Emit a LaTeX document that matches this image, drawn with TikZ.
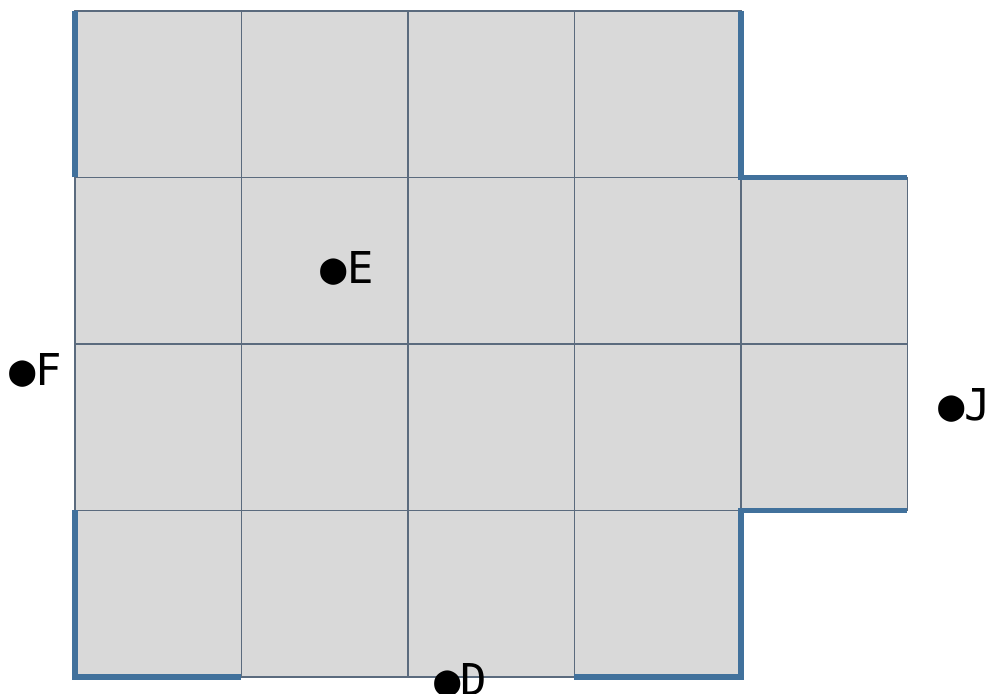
\documentclass[tikz,border=0pt]{standalone}
\usepackage{fontspec}
\setmonofont{DejaVu Sans Mono}
\usetikzlibrary{positioning}

\definecolor{cellgray}{HTML}{D9D9D9}
\definecolor{gridline}{HTML}{5B6B7E}
\definecolor{edgeblue}{HTML}{41719C}

\tikzset{
	cell/.style = {fill = cellgray, draw = gridline, line width = 0.5pt},
	edge/.style = {draw = edgeblue, line width = 2pt},
	spot/.style = {font = \ttfamily\fontsize{15}{18}\selectfont, inner sep = 0pt}
}

\begin{document}
\begin{tikzpicture}[x = 2cm, y = 2cm]
	\useasboundingbox (-0.450, -0.102) rectangle (5.538, 4.066);
	% the four by four block
	\foreach \i in {0, 1, 2, 3} {
		\foreach \j in {0, 1, 2, 3} {
			\draw [cell] (\i, \j) rectangle ++(1, 1);
		}
	}
	% the two squares on the right
	\draw [cell] (4, 1) rectangle ++(1, 1);
	\draw [cell] (4, 2) rectangle ++(1, 1);
	% thick blue edges
	\draw [edge] (0, 3) -- (0, 4);
	\draw [edge] (0, 1) -- (0, 0) -- (1, 0);
	\draw [edge] (3, 0) -- (4, 0) -- (4, 1) -- (5, 1);
	\draw [edge] (4, 4) -- (4, 3) -- (5, 3);
	% points
	\node [spot] (E) at (1.635, 2.456) {●E};
	\node [spot] (F) at (-0.234, 1.844) {●F};
	\node [spot] (J) at (5.345, 1.634) {●J};
	\node [spot] (D) at (2.318, -0.018) {●D};
\end{tikzpicture}
\end{document}
